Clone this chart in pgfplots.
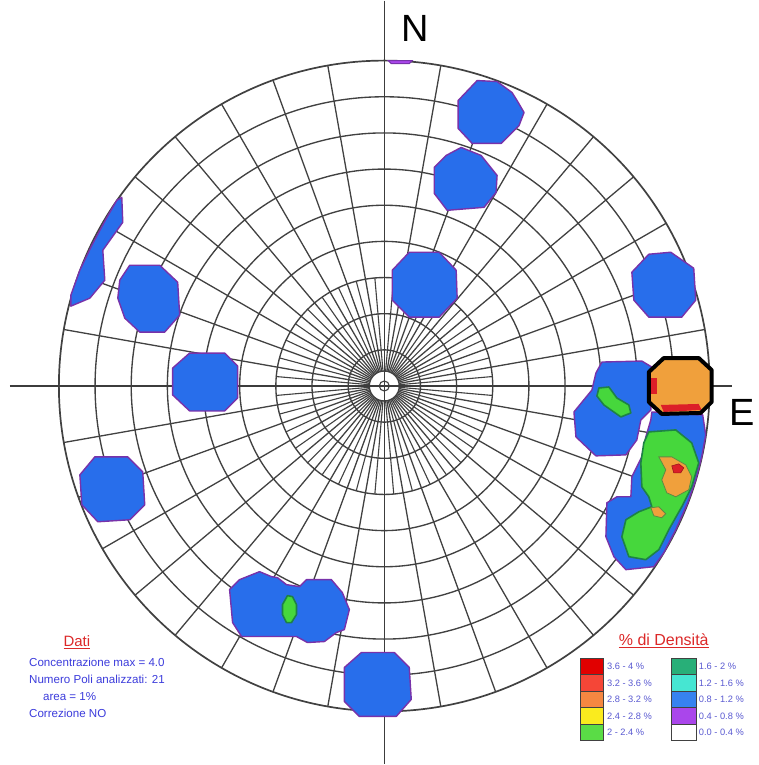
\documentclass[border=0pt]{standalone}
\usepackage{fontspec}
\setmainfont{Liberation Sans}
\usepackage{pgfplots}
\pgfplotsset{compat=1.18}
\definecolor{gridc}{RGB}{65,65,65}
\definecolor{axc}{RGB}{60,60,60}
\definecolor{bl}{RGB}{40,110,235}
\definecolor{pu}{RGB}{120,50,170}
\definecolor{gr}{RGB}{70,215,60}
\definecolor{dg}{RGB}{30,130,70}
\definecolor{orc}{RGB}{240,160,60}
\definecolor{rdc}{RGB}{220,30,40}
\definecolor{txb}{RGB}{60,60,220}
\definecolor{txl}{RGB}{90,90,210}
\definecolor{ttl}{RGB}{220,40,40}
\definecolor{lA}{RGB}{225,0,0}
\definecolor{lB}{RGB}{245,70,55}
\definecolor{lC}{RGB}{245,135,65}
\definecolor{lD}{RGB}{250,235,30}
\definecolor{lE}{RGB}{90,220,70}
\definecolor{rA}{RGB}{40,175,120}
\definecolor{rB}{RGB}{70,230,210}
\definecolor{rC}{RGB}{55,130,240}
\definecolor{rD}{RGB}{170,70,235}
\definecolor{rE}{RGB}{255,255,255}
\begin{document}
\begin{tikzpicture}
\begin{axis}[x=1pt,y=1pt,y dir=reverse,xmin=0,xmax=758,ymin=0,ymax=765,
  hide axis,clip=false,
  blob/.style={fill=bl,draw=pu,line width=1.4pt,line join=round},
  grn/.style={fill=gr,draw=dg,line width=1.6pt,line join=round},
  lbox/.style={draw=gridc,line width=0.9pt}]
\fill[white] (axis cs:0,0) rectangle (axis cs:758,765);
% grid
\pgfplotsinvokeforeach{1,...,8}{\draw[gridc,line width=1.35pt] (axis cs:385,386) circle[radius={#1*36.22pt}];}
\draw[gridc,line width=1.3pt] (axis cs:385,386) circle[radius=15pt];
\draw[gridc,line width=1.1pt] (axis cs:385,386) circle[radius=5pt];
\pgfplotsinvokeforeach{0,10,...,350}{\draw[gridc,line width=1.3pt] (axis cs:385,386) ++(#1:15pt) -- ++(#1:311pt);}
\pgfplotsinvokeforeach{5,15,...,355}{\draw[gridc,line width=1.1pt] (axis cs:385,386) ++(#1:15pt) -- ++(#1:94pt);}
\draw[gridc,line width=1.7pt] (axis cs:385,386) circle[radius=326pt];
\draw[axc,line width=1.4pt] (axis cs:385,0) -- (axis cs:385,765);
\draw[axc,line width=1.4pt] (axis cs:10,386) -- (axis cs:733,386);
% blobs
\addplot[blob] coordinates {(478,80)(498,81)(513,92)(518,100)(525,112)(520,125)(502,143)(473,143)(459,128)(459,100)} --cycle;
\addplot[blob] coordinates {(462,147)(482,155)(498,175)(497,192)(485,207)(448,210)(435,193)(435,167)(447,155)} --cycle;
\addplot[blob] coordinates {(410,252)(440,252)(457,270)(458,298)(440,317)(410,317)(393,300)(393,270)} --cycle;
\addplot[blob] coordinates {(650,254)(672,252)(695,268)(697,300)(683,317)(650,317)(635,300)(633,272)} --cycle;
\addplot[blob] coordinates {(190,353)(225,353)(238,366)(238,398)(225,411)(190,411)(173,395)(173,368)} --cycle;
\addplot[blob] coordinates {(130,265)(160,265)(178,282)(180,315)(165,332)(140,332)(125,318)(118,298)(120,280)} --cycle;
\addplot[blob] coordinates {(122,197)(123,222)(103,250)(105,280)(90,298)(71,306)(71,295)(80,270)(92,245)(106,219)(117,200)} --cycle;
\addplot[blob] coordinates {(95,457)(128,457)(143,472)(145,505)(130,520)(98,522)(82,505)(80,475)} --cycle;
\addplot[blob] coordinates {(260,572)(272,577)(278,578)(287,585)(300,587)(307,580)(332,580)(343,593)(350,610)(345,630)(337,633)(325,642)(308,643)(297,637)(242,637)(233,623)(230,590)(240,580)} --cycle;
\addplot[grn] coordinates {(288,596)(293,597)(297,605)(297,615)(292,623)(287,623)(283,615)(283,605)} --cycle;
\addplot[blob] coordinates {(362,653)(395,653)(410,668)(412,700)(397,717)(360,717)(345,702)(345,668)} --cycle;
\addplot[fill=rD,draw=pu,line width=1pt] coordinates {(389,60)(413,60)(410,63)(392,63)} --cycle;
% east cluster
\addplot[blob] coordinates {(603,362)(643,361)(653,367)(652,410)(642,420)(638,440)(627,455)(597,456)(577,437)(575,412)(593,390)(597,373)} --cycle;
\addplot[grn] coordinates {(600,388)(610,387)(618,398)(630,405)(632,413)(622,417)(605,405)(598,396)} --cycle;
\addplot[blob] coordinates {(653,412)(704,415)(707,435)(703,457)(697,480)(689,503)(677,530)(665,553)(655,567)(627,570)(615,557)(607,537)(608,503)(618,497)(632,497)(633,477)(643,457)(647,437)(652,420)} --cycle;
\addplot[grn] coordinates {(650,432)(677,430)(693,443)(700,463)(693,487)(683,507)(670,530)(660,550)(647,560)(630,557)(623,537)(627,520)(640,512)(653,507)(650,497)(643,487)(642,463)(645,443)} --cycle;
\addplot[fill=orc,draw=dg!70!orc,line width=0.8pt] coordinates {(660,457)(673,457)(687,465)(693,477)(690,490)(677,497)(668,493)(663,480)(667,470)} --cycle;
\addplot[fill=rdc,draw=rdc!70!black,line width=0.6pt] coordinates {(673,466)(680,464)(685,468)(682,473)(675,473)} --cycle;
\addplot[fill=orc,draw=dg!70!orc,line width=0.8pt] coordinates {(652,508)(660,507)(667,514)(663,518)(655,516)} --cycle;
\addplot[fill=orc,draw=none] coordinates {(665,358)(700,358)(713,370)(713,402)(702,413)(663,414)(650,402)(650,372)} --cycle;
\addplot[fill=rdc,draw=none] coordinates {(652,378)(658,378)(658,394)(652,394)} --cycle;
\addplot[fill=rdc,draw=none] coordinates {(662,405)(700,404)(703,410)(665,412)} --cycle;
\addplot[draw=black,line width=4pt,line join=round] coordinates {(665,358)(700,358)(713,370)(713,402)(702,413)(663,414)(650,402)(650,372)} --cycle;
% labels
\node[font=\fontsize{38}{40}\selectfont,anchor=center] at (axis cs:416,28) {N};
\node[font=\fontsize{38}{40}\selectfont,anchor=center] at (axis cs:744,413) {E};
% info block
\node[font=\fontsize{15}{17}\selectfont,text=ttl] at (axis cs:77,643) {\underline{Dati}};
\begin{scope}[every node/.style={font=\fontsize{11.6}{13}\selectfont,text=txb,anchor=west,inner sep=0pt}]
\node at (axis cs:29,663) {Concentrazione max = 4.0};
\node at (axis cs:29,680) {Numero Poli analizzati: 21};
\node at (axis cs:43,697) {area = 1\%};
\node at (axis cs:29,714) {Correzione NO};
\end{scope}
% density legend
\node[font=\fontsize{16}{18}\selectfont,text=ttl] at (axis cs:665,641) {\underline{\% di Densità}};
\addplot[lbox,fill=lA] coordinates {(582,659)(605,659)(605,675)(582,675)} --cycle;
\addplot[lbox,fill=lB] coordinates {(582,675)(605,675)(605,692)(582,692)} --cycle;
\addplot[lbox,fill=lC] coordinates {(582,692)(605,692)(605,708)(582,708)} --cycle;
\addplot[lbox,fill=lD] coordinates {(582,708)(605,708)(605,725)(582,725)} --cycle;
\addplot[lbox,fill=lE] coordinates {(582,725)(605,725)(605,741)(582,741)} --cycle;
\addplot[lbox,fill=rA] coordinates {(673,659)(698,659)(698,675)(673,675)} --cycle;
\addplot[lbox,fill=rB] coordinates {(673,675)(698,675)(698,692)(673,692)} --cycle;
\addplot[lbox,fill=rC] coordinates {(673,692)(698,692)(698,708)(673,708)} --cycle;
\addplot[lbox,fill=rD] coordinates {(673,708)(698,708)(698,725)(673,725)} --cycle;
\addplot[lbox,fill=rE] coordinates {(673,725)(698,725)(698,741)(673,741)} --cycle;
\begin{scope}[every node/.style={font=\fontsize{9.3}{11}\selectfont,text=txl,anchor=west,inner sep=0pt}]
\node at (axis cs:608,667) {3.6 - 4 \%};
\node at (axis cs:608,683.5) {3.2 - 3.6 \%};
\node at (axis cs:608,700) {2.8 - 3.2 \%};
\node at (axis cs:608,716.5) {2.4 - 2.8 \%};
\node at (axis cs:608,733) {2 - 2.4 \%};
\node at (axis cs:700,667) {1.6 - 2 \%};
\node at (axis cs:700,683.5) {1.2 - 1.6 \%};
\node at (axis cs:700,700) {0.8 - 1.2 \%};
\node at (axis cs:700,716.5) {0.4 - 0.8 \%};
\node at (axis cs:700,733) {0.0 - 0.4 \%};
\end{scope}
\path (axis cs:0,0) (axis cs:758,765);
\end{axis}
\end{tikzpicture}
\end{document}
